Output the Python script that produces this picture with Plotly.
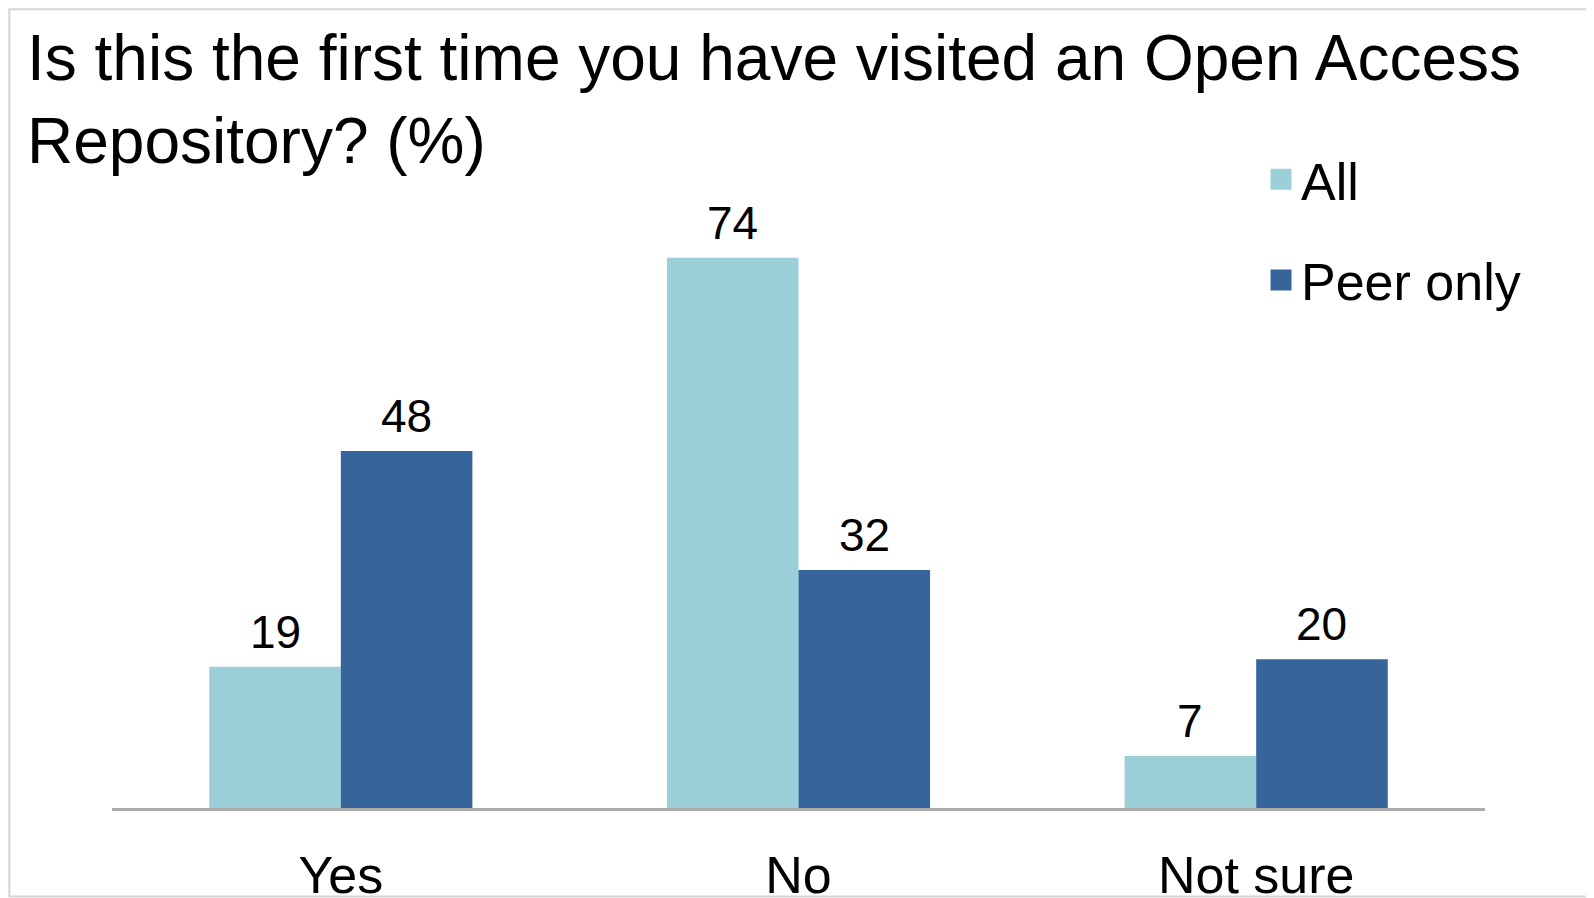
import plotly.graph_objects as go

categories = ["Yes", "No", "Not sure"]
all_values = [19, 74, 7]
peer_values = [48, 32, 20]
series_names = ["All", "Peer only"]
title_lines = ["Is this the first time you have visited an Open Access", "Repository? (%)"]

COL_ALL = "#9BD0D9"
COL_PEER = "#35659B"
FONT = "Liberation Sans, Arial, sans-serif"

# the page body has an 8px margin, so the figure is sized to fit the window
W, H = 1586, 890
ML, MR, MT, MB = 104, 109, 205, 90
PW, PH = W - ML - MR, H - MT - MB
BARGAP = 0.425
half = (1 - BARGAP) / 4  # offset of each bar centre from category centre

fig = go.Figure()
fig.add_trace(go.Bar(x=categories, y=all_values, name=series_names[0],
                     marker=dict(color=COL_ALL, line=dict(width=0)), showlegend=False))
fig.add_trace(go.Bar(x=categories, y=peer_values, name=series_names[1],
                     marker=dict(color=COL_PEER, line=dict(width=0)), showlegend=False))

# legend entries
for name, col in zip(series_names, [COL_ALL, COL_PEER]):
    fig.add_trace(go.Scatter(x=[None], y=[None], mode="markers", name=name,
                             legendgroup=name,
                             marker=dict(symbol="square", size=16, color=col,
                                         line=dict(color=col, width=5))))

annotations = []
for i, cat in enumerate(categories):
    for vals, sign in ((all_values, -1), (peer_values, 1)):
        annotations.append(dict(x=i + sign * half, y=vals[i], xref="x", yref="y",
                                text=str(vals[i]), showarrow=False,
                                yanchor="bottom", yshift=7,
                                font=dict(family=FONT, size=46, color="#000000")))

fig.update_layout(
    width=W, height=H,
    margin=dict(l=ML, r=MR, t=MT, b=MB, pad=0, autoexpand=False),
    paper_bgcolor="white", plot_bgcolor="white",
    barmode="group", bargap=BARGAP, bargroupgap=0,
    title=dict(text="<br>".join(title_lines), x=19 / W, xref="container", xanchor="left",
               y=1 - 72 / H, yref="container", yanchor="top", automargin=False,
               font=dict(family=FONT, size=64, color="#000000")),
    legend=dict(x=1253 / W, xref="container", xanchor="left",
                y=1 - 131 / H, yref="container", yanchor="top",
                font=dict(family=FONT, size=52, color="#000000"),
                tracegroupgap=30, traceorder="grouped",
                bgcolor="rgba(0,0,0,0)", itemsizing="trace"),
    xaxis=dict(range=[-0.5, 2.5], showgrid=False, zeroline=False,
               showline=True, linecolor="#ABABAB", linewidth=2.5,
               ticks="", ticklabelstandoff=20, automargin=False,
               tickfont=dict(family=FONT, size=52, color="#000000")),
    yaxis=dict(range=[0, 80], visible=False, showgrid=False, zeroline=False, automargin=False),
    annotations=annotations,
    shapes=[dict(type="rect", xref="paper", yref="paper",
                 x0=(1.3 - ML) / PW, x1=(W + 10 - ML) / PW,
                 y0=-(MB - 1.5) / PH, y1=(H - MB - 1.3) / PH,
                 line=dict(color="#D3D6D3", width=2), fillcolor="rgba(0,0,0,0)", layer="below")],
)

fig.write_html("out.html")
